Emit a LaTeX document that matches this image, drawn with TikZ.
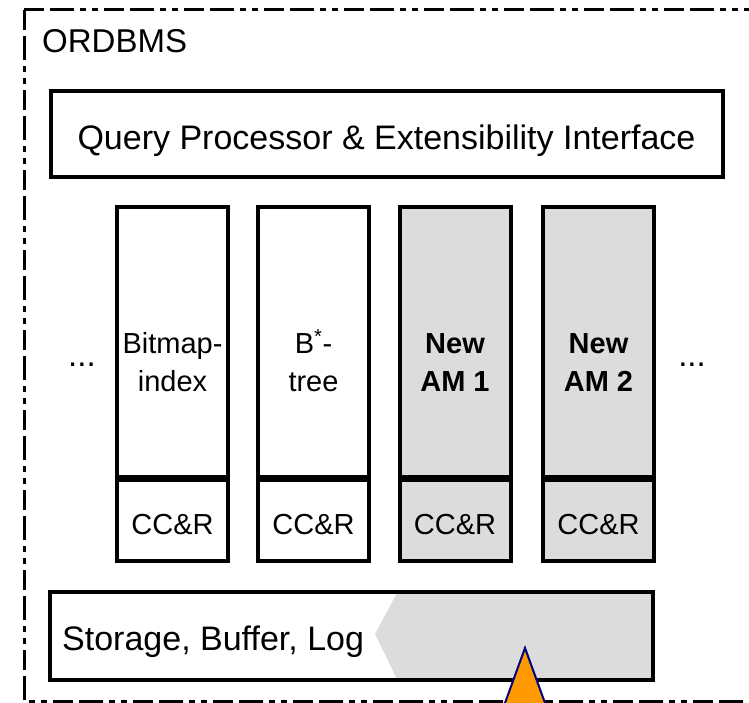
\documentclass[tikz,border=0pt]{standalone}
\usepackage{fontspec}
\setmainfont{Liberation Sans}
\begin{document}
\begin{tikzpicture}[x=1pt,y=-1pt,
  box/.style={draw=black,line width=4pt,inner sep=0pt},
  amcol/.style={box,minimum width=111pt,minimum height=270pt},
  ccr/.style={box,minimum width=111pt,minimum height=84pt},
  newcol/.style={fill=amgray},
  coltext/.style={font=\fontsize{29}{38}\selectfont,align=center,anchor=base},
  bigtext/.style={font=\fontsize{34}{40}\selectfont,anchor=base west,inner sep=0pt},
  outer/.style={draw=black,line width=3pt,dash pattern=on 20pt off 6pt on 24pt off 6pt on 6pt off 6pt on 6pt off 6pt}]
\definecolor{amgray}{HTML}{DCDCDC}
\definecolor{tri}{HTML}{FF9900}
\definecolor{navy}{HTML}{000080}
\useasboundingbox (0,0) rectangle (749,703);
\clip (0,0) rectangle (749,703);
% outer dashed frame
\draw[outer] (24,10) -- (760,10);
\draw[outer] (24,10) -- (24,701) -- (760,701);
\node[font=\fontsize{33}{40}\selectfont,anchor=base west,inner sep=0pt] (ordbms) at (42,53) {ORDBMS};
% query box
\node[box,minimum width=672pt,minimum height=86pt] (query) at (386.5,134.5) {};
\node[bigtext,anchor=base] (qtext) at (386.5,150) {Query Processor \& Extensibility Interface};
% columns
\foreach \n/\x/\st in {c1/172.5/, c2/313.5/, c3/455/newcol, c4/598.5/newcol}{
  \node[amcol,\st] (\n) at (\x,342) {};
  \node[ccr,\st] (\n cc) at (\x,519) {};
  \draw[line width=6pt] (\n.south west) -- (\n.south east);
  \node[coltext,font=\fontsize{29}{38}\selectfont] (\n ccr) at (\x,534) {CC\&R};
}
\node[coltext] (t1a) at (172.5,353) {Bitmap-};
\node[coltext] (t1b) at (172.5,391) {index};
\node[coltext] (t2a) at (313.5,353) {B\textsuperscript{*}-};
\node[coltext] (t2b) at (313.5,391) {tree};
\node[coltext,font=\bfseries\fontsize{29}{38}\selectfont] (t3a) at (455,353) {New};
\node[coltext,font=\bfseries\fontsize{29}{38}\selectfont] (t3b) at (455,391) {AM 1};
\node[coltext,font=\bfseries\fontsize{29}{38}\selectfont] (t4a) at (598.5,353) {New};
\node[coltext,font=\bfseries\fontsize{29}{38}\selectfont] (t4b) at (598.5,391) {AM 2};
\node[coltext,font=\fontsize{33}{38}\selectfont] (dl) at (82,366) {...};
\node[coltext,font=\fontsize{33}{38}\selectfont] (dr) at (692,366) {...};
% storage box
\fill[amgray] (375,634) -- (397,593) -- (652,593) -- (652,679) -- (397,679) -- cycle;
\node[box,minimum width=603pt,minimum height=88pt] (storage) at (351.5,636) {};
\node[bigtext] (stext) at (62,650) {Storage, Buffer, Log};
% orange triangle
\filldraw[fill=tri,draw=navy,line width=2pt] (525,648) -- (551.2,720) -- (498.8,720) -- cycle;
\end{tikzpicture}
\end{document}
